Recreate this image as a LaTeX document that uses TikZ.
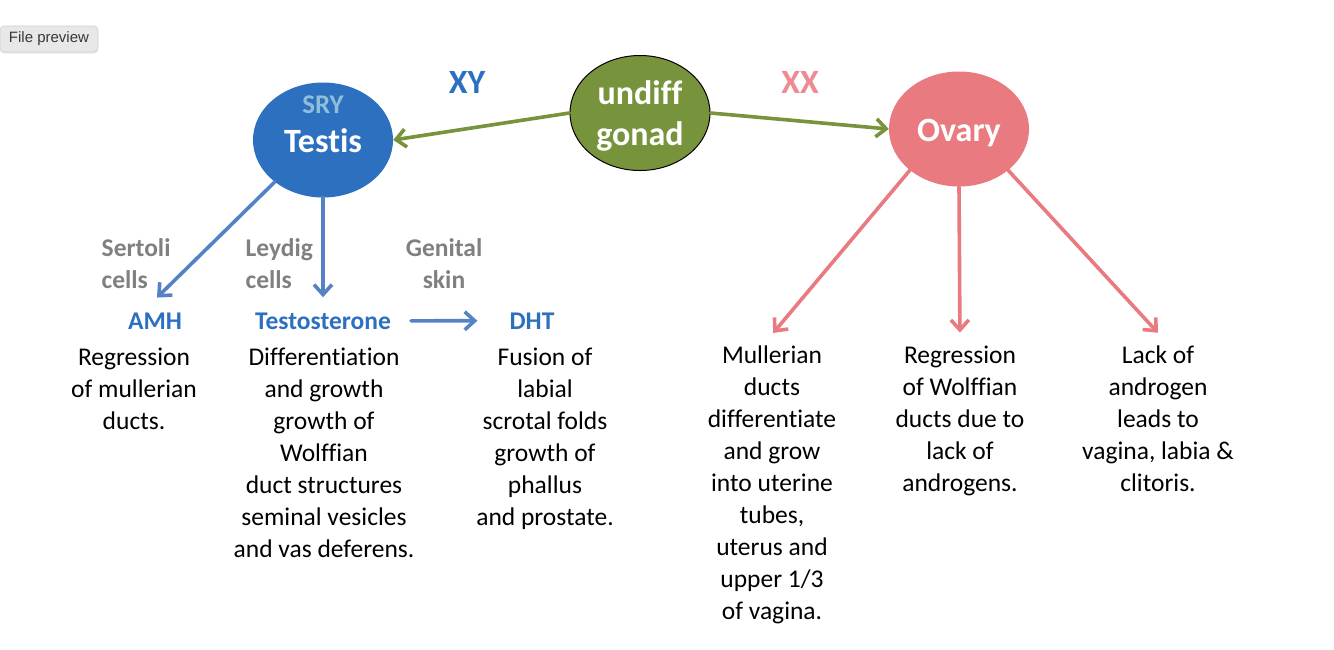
\documentclass[tikz,border=0pt]{standalone}
\usepackage{fontspec}
\setmainfont{Carlito}[Ligatures=NoCommon]
\newfontfamily\uifont{Liberation Sans}
\usetikzlibrary{shapes.geometric, arrows.meta, shadows}
\definecolor{testisblue}{RGB}{46,112,192}
\definecolor{sryblue}{RGB}{142,190,218}
\definecolor{arrowblue}{RGB}{84,130,196}
\definecolor{gonadgreen}{RGB}{119,147,60}
\definecolor{ovarypink}{RGB}{232,122,128}
\definecolor{xxpink}{RGB}{236,140,146}
\definecolor{sourcegray}{RGB}{128,128,128}

\begin{document}
\begin{tikzpicture}[x=1pt, y=-1pt,
  every node/.style={font=\fontsize{25.5}{32}\selectfont},
  blob/.style={ellipse, minimum width=140pt, minimum height=115pt, inner sep=0pt,
    text=white, align=center, font=\bfseries\fontsize{34}{41}\selectfont},
  karyo/.style={inner sep=0pt, anchor=base, font=\bfseries\fontsize{34}{41}\selectfont},
  hormone/.style={inner sep=0pt, anchor=base, text=testisblue,
    font=\bfseries\fontsize{25.5}{32}\selectfont},
  sourcelbl/.style={inner sep=0pt, text=sourcegray, execute at begin node=\strut,
    font=\bfseries\fontsize{25.5}{32}\selectfont},
  effecttxt/.style={inner sep=0pt, anchor=north, align=center, execute at begin node=\strut},
  flow/.style={-{Straight Barb[length=10pt,width=18pt]}, line width=3.6pt,
    line cap=round, line join=round},
  uibtn/.style={rounded corners=4pt, fill=black!9, draw=black!18, line width=0.6pt,
    minimum width=98pt, minimum height=26pt, inner sep=0pt, text=black!78,
    font=\uifont\fontsize{15}{17}\selectfont,
    drop shadow={shadow xshift=0pt, shadow yshift=-1.5pt, opacity=0.18}}]
\useasboundingbox (0,0) rectangle (1334,649);
\fill[white] (0,0) rectangle (1334,649);

\node[uibtn] (preview) at (49,39) {File preview};

% gonads
\node[blob, fill=gonadgreen, draw=black, line width=1pt, text depth=0pt] (gonad) at (640,113) {undiff\\gonad};
\node[blob, fill=testisblue, text height=26pt] (testis) at (323,140) {Testis};
\node[blob, fill=ovarypink, text height=29.5pt] (ovary) at (959,129) {Ovary};
\node[hormone, text=sryblue, font=\bfseries\fontsize{27}{32}\selectfont] (sry) at (323,113) {SRY};
\node[karyo, text=testisblue] (xy) at (467,93) {XY};
\node[karyo, text=xxpink] (xx) at (800,93) {XX};

% male side
\node[sourcelbl, anchor=north west, align=left] (sertoli) at (101.5,238.6) {Sertoli\\cells};
\node[sourcelbl, anchor=north west, align=left] (leydig) at (245.5,238.6) {Leydig\\cells};
\node[sourcelbl, anchor=north, align=center] (skin) at (444,238.6) {Genital\\skin};
\node[hormone] (amh) at (155,329) {AMH};
\node[hormone] (testo) at (323,329) {Testosterone};
\node[hormone] (dht) at (532,329) {DHT};
\node[effecttxt] (regm) at (134,347.6) {Regression\\of mullerian\\ducts.};
\node[effecttxt] (diff) at (324,347.6) {Differentiation\\and growth\\growth of\\Wolffian\\duct structures\\seminal vesicles\\and vas deferens.};
\node[effecttxt] (fusion) at (545,347.6) {Fusion of\\labial\\scrotal folds\\growth of\\phallus\\and prostate.};

% female side
\node[effecttxt] (mull) at (772,345.6) {Mullerian\\ducts\\differentiate\\and grow\\into uterine\\tubes,\\uterus and\\upper 1/3\\of vagina.};
\node[effecttxt] (regw) at (960,345.6) {Regression\\of Wolffian\\ducts due to\\lack of\\androgens.};
\node[effecttxt] (lack) at (1158,345.6) {Lack of\\androgen\\leads to\\vagina, labia \&\\clitoris.};

\draw[flow, draw=gonadgreen] (gonad.west) -- (testis.east);
\draw[flow, draw=gonadgreen] (gonad.east) -- (ovary.west);
\draw[flow, draw=arrowblue, shorten >=21pt] (testis.-139) -- ([xshift=-13pt]amh.north);
\draw[flow, draw=arrowblue, shorten >=15pt] (testis.south) -- (testo.north);
\draw[flow, draw=arrowblue, shorten <=20pt, shorten >=32pt] (testo.east) -- (dht.west);
\draw[flow, draw=ovarypink, shorten >=16.5pt] (ovary.-140) -- ([xshift=-9.4pt]mull.north);
\draw[flow, draw=ovarypink, shorten >=13pt] (ovary.south) -- (regw.north);
\draw[flow, draw=ovarypink, shorten >=17.5pt] (ovary.-40) -- ([xshift=11.7pt]lack.north);
\end{tikzpicture}
\end{document}
